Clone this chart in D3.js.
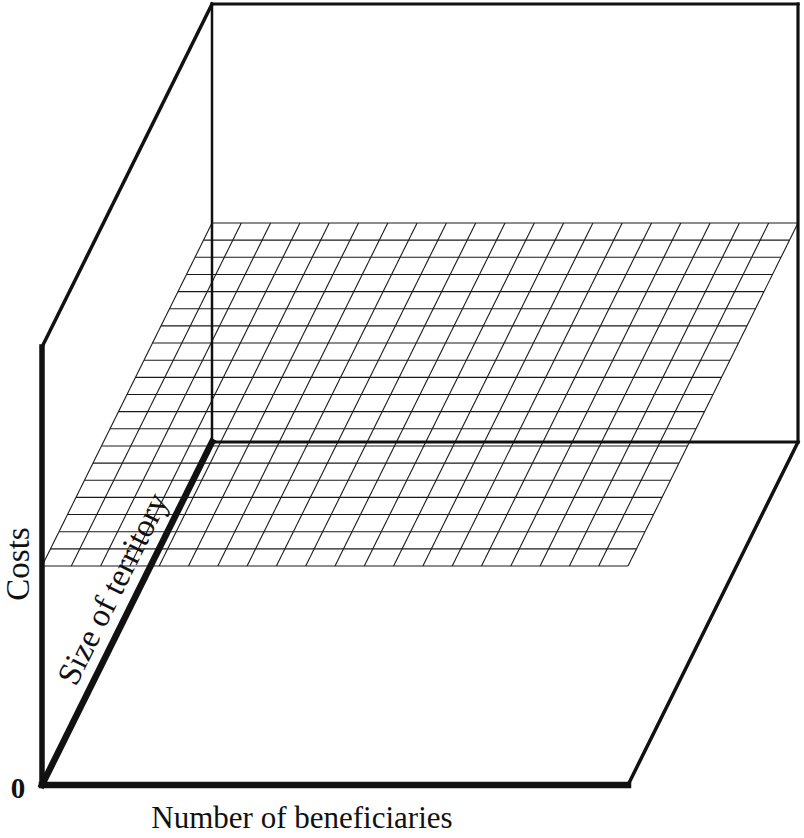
<!DOCTYPE html>
<meta charset="utf-8">
<style>
body { margin: 0; background: #fff; }
text { font-family: "Liberation Serif", "Times New Roman", serif; fill: #111; }
</style>
<body>
<script src="https://d3js.org/d3.v7.min.js"></script>
<script>

// axis titles
var titles = {x: "Number of beneficiaries", depth: "Size of territory", cost: "Costs", origin: "0"};

// grid divisions of the cost plane (beneficiaries x territory)
var beneficiarySteps = [0,1,2,3,4,5,6,7,8,9,10,11,12,13,14,15,16,17,18,19,20];
var territorySteps   = [0,1,2,3,4,5,6,7,8,9,10,11,12,13,14,15,16,17,18,19,20];

// cost level of the plane and of the box top
var planeCost = 1;
var maxCost = 2;

var width = 804, height = 838;

// scales: beneficiaries -> x, territory -> oblique offset, costs -> y
var x = d3.scaleLinear().domain([0, 20]).range([42, 628]);
var dX = d3.scaleLinear().domain([0, 20]).range([0, 170]);
var dY = d3.scaleLinear().domain([0, 20]).range([0, 343]);
var y = d3.scaleLinear().domain([0, maxCost]).range([785, 347]);

// project (beneficiaries, territory, cost) into the page
function P(b, s, c) { return [x(b) + dX(s), y(c) - dY(s)]; }

var svg = d3.select("body").append("svg")
    .attr("width", width)
    .attr("height", height);

var line = d3.line();

// the cost plane grid
var grid = svg.append("g").attr("stroke", "#1a1a1a").attr("stroke-width", 1.1).attr("fill", "none");
grid.selectAll("path.row")
    .data(territorySteps)
  .enter().append("path")
    .attr("class", "row")
    .attr("d", function(s) { return line([P(0, s, planeCost), P(20, s, planeCost)]); });
grid.selectAll("path.col")
    .data(beneficiarySteps)
  .enter().append("path")
    .attr("class", "col")
    .attr("d", function(b) { return line([P(b, 0, planeCost), P(b, 20, planeCost)]); });

// box edges: [from, to, stroke width]
var edges = [
  [[0, 20, 0], [0, 20, maxCost], 2.5],     // back left vertical
  [[0, 20, 0], [20, 20, 0], 3],            // back bottom
  [[20, 20, 0], [20, 20, maxCost], 3.2],   // back right vertical
  [[0, 20, maxCost], [20, 20, maxCost], 3.2], // back top
  [[0, 0, maxCost], [0, 20, maxCost], 3.5],   // left top diagonal
  [[20, 0, 0], [20, 20, 0], 3.5],          // right floor diagonal
  [[0, 0, 0], [0, 0, maxCost], 5.5],       // costs axis
  [[0, 0, 0], [0, 20, 0], 6.5],            // territory axis
  [[0, 0, 0], [20, 0, 0], 6.5]             // beneficiaries axis
];

svg.append("g").selectAll("path")
    .data(edges)
  .enter().append("path")
    .attr("d", function(e) { return line([P.apply(null, e[0]), P.apply(null, e[1])]); })
    .attr("stroke", "#111")
    .attr("stroke-width", function(e) { return e[2]; })
    .attr("stroke-linecap", "square")
    .attr("fill", "none");

// labels
svg.append("text")
    .attr("x", 302)
    .attr("y", 828)
    .attr("text-anchor", "middle")
    .style("font-size", "31px")
    .text(titles.x);

svg.append("text")
    .attr("transform", "translate(29," + 564 + ") rotate(-90)")
    .attr("text-anchor", "middle")
    .style("font-size", "33px")
    .text(titles.cost);

var ang = -Math.atan2(dY(20), dX(20)) * 180 / Math.PI;
var mid = P(0, 11.1, 0);
svg.append("text")
    .attr("transform", "translate(" + (mid[0] - 14) + "," + (mid[1] - 1) + ") rotate(" + ang + ")")
    .attr("text-anchor", "middle")
    .style("font-size", "33px")
    .text(titles.depth);

svg.append("text")
    .attr("x", 18)
    .attr("y", 798)
    .attr("text-anchor", "middle")
    .style("font-size", "29px")
    .style("font-weight", "bold")
    .text(titles.origin);

</script>
</body>
